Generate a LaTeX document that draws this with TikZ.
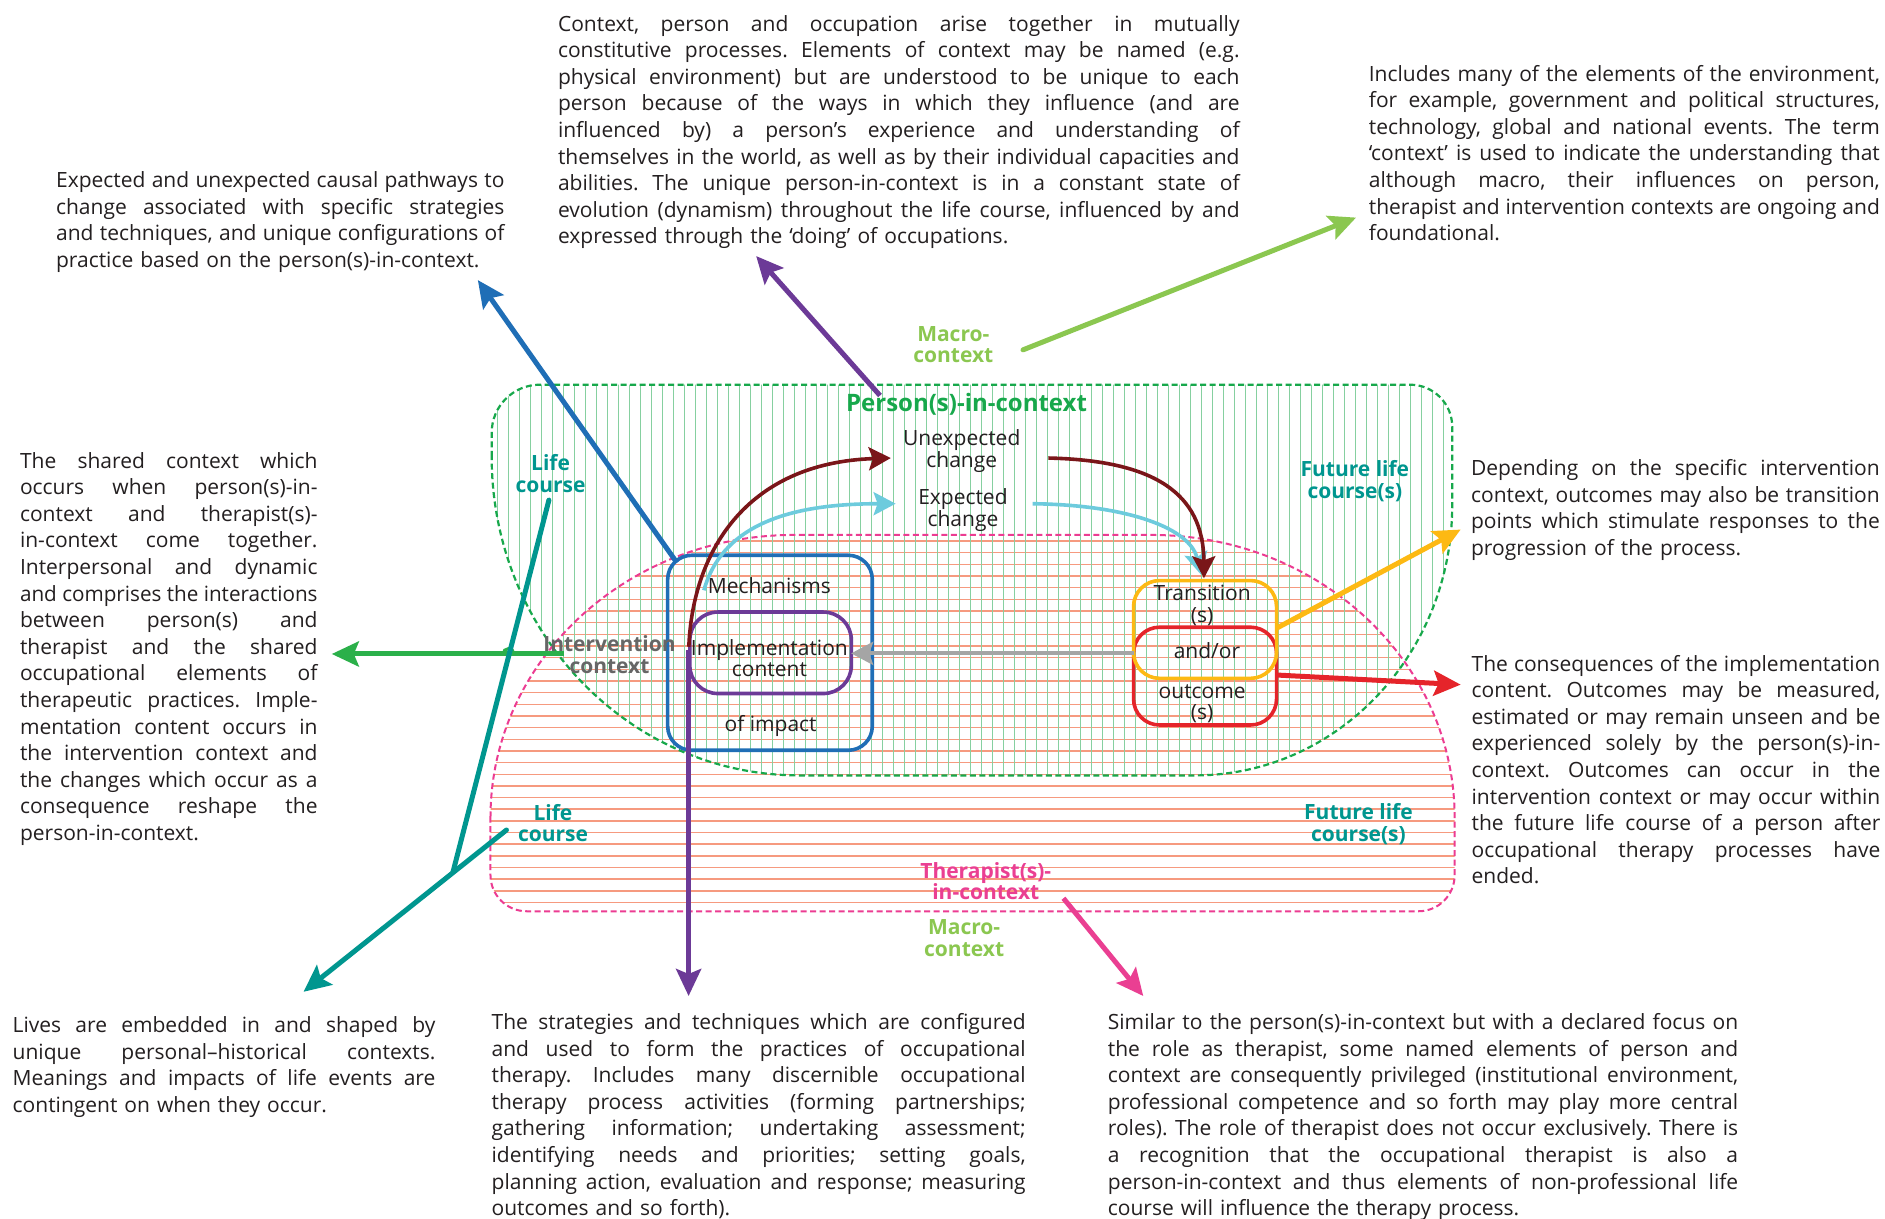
\documentclass[tikz,border=0pt]{standalone}
\usepackage{fontspec}
\setmainfont{Open Sans}
\usepackage{graphicx}
\usetikzlibrary{arrows.meta}
\definecolor{cgreen}{HTML}{17A84B}
\definecolor{chatchg}{HTML}{86D0A0}
\definecolor{cpinkd}{HTML}{EC3C92}
\definecolor{chatchp}{HTML}{F69A7F}
\definecolor{cteal}{HTML}{00968F}
\definecolor{cmaroon}{HTML}{7A1619}
\definecolor{clblue}{HTML}{6DCBDD}
\definecolor{cblue}{HTML}{1F6EB6}
\definecolor{cpurple}{HTML}{6C3A97}
\definecolor{cmacro}{HTML}{8BC750}
\definecolor{corange}{HTML}{FDB913}
\definecolor{cred}{HTML}{E5242A}
\definecolor{cgrayarr}{HTML}{A5A5A5}
\definecolor{cgraytxt}{HTML}{666666}
\definecolor{cgarr}{HTML}{2BB04A}
\definecolor{cpinka}{HTML}{EA3F92}
\definecolor{ctext}{HTML}{231F20}
\newlength\JLw
\newcommand\J[1]{{\spaceskip=0pt\xspaceskip=0pt\frenchspacing\settowidth\JLw{#1}\ifdim\JLw>\linewidth\resizebox{\linewidth}{\height}{#1}\else\makebox[\linewidth][s]{#1}\fi\par}}
\def\GreenShape{(409,380) -- (409,360) arc[start angle=180,end angle=270,radius=40] -- (1173,320) arc[start angle=270,end angle=360,radius=35] -- (1208,420) arc[start angle=0,end angle=90,x radius=214,y radius=225] -- (665,645) arc[start angle=90,end angle=180,x radius=256,y radius=265] -- cycle}
\def\PinkShape{(408,680) arc[start angle=180,end angle=270,x radius=252,y radius=235] -- (958,445) arc[start angle=270,end angle=360,x radius=252,y radius=235] -- (1210,728) arc[start angle=0,end angle=90,radius=30] -- (438,758) arc[start angle=90,end angle=180,radius=30] -- cycle}
\tikzset{
  txt/.style={inner sep=0pt, anchor=base west, align=left, text=ctext, font=\fontsize{21}{26.6}\selectfont\frenchspacing},
  lab/.style={inner sep=0pt, align=center, text=ctext, font=\fontsize{21}{21.6}\selectfont},
  blab/.style={inner sep=0pt, align=center, font=\bfseries\fontsize{21}{21.6}\selectfont},
  box/.style={shape=rectangle, inner sep=0pt, line width=3.6pt},
  arr/.style={line width=5pt, -{Stealth[length=27pt,width=25pt,inset=5pt]}},
  arrs/.style={line width=3.6pt, -{Stealth[length=22pt,width=23pt,inset=4pt]}},
  vh/.style={draw=chatchg, line width=1.3pt},
  hh/.style={draw=chatchp, line width=1.4pt},
  gdash/.style={draw=cgreen, line width=2.2pt, dash pattern=on 6pt off 3.5pt},
  pdash/.style={draw=cpinkd, line width=2pt, dash pattern=on 6pt off 3.5pt}
}
\begin{document}
\begin{tikzpicture}[x=1.2022pt,y=-1.2022pt]
\useasboundingbox (0,0) rectangle (1568,1014);
\fill[white] (0,0) rectangle (1568,1014);
% hatching
\begin{scope}
\clip \PinkShape;
\foreach \y in {450,459.7,...,760} \draw[hh] (400,\y) -- (1220,\y);
\end{scope}
\begin{scope}
\clip \GreenShape;
\foreach \x in {414,423.15,...,1212} \draw[vh] (\x,315) -- (\x,650);
\end{scope}
\draw[gdash] \GreenShape;
\draw[pdash] \PinkShape;
% boxes
\node[box, draw=cblue, minimum width=204.6pt, minimum height=195pt, rounded corners=24pt] (mech) at (640.5,543) {};
\node[box, draw=cpurple, minimum width=161.5pt, minimum height=81.5pt, rounded corners=28pt] (impl) at (641,543) {};
\node[box, draw=cred, minimum width=143pt, minimum height=97.8pt, rounded corners=26pt] (outc) at (1002.4,562.4) {};
\node[box, draw=corange, minimum width=143pt, minimum height=97.8pt, rounded corners=26pt] (trans) at (1002.4,523.6) {};
% labels
\node[lab] (lmech) at (640,487.5) {Mechanisms};
\node[lab] (limpl) at (640,547.5) {Implementation\\content};
\node[lab] (limp) at (641,603.5) {of impact};
\node[lab] (ltr) at (1000,503.5) {Transition\\(s)};
\node[lab] (land) at (1004,541) {and/or};
\node[lab] (lout) at (1000,585.5) {outcome\\(s)};
\node[lab] (lunexp) at (800,375) {Unexpected\\change};
\node[lab] (lexp) at (801,424.5) {Expected\\change};
\node[blab, text=cgreen, font=\bfseries\fontsize{24}{24}\selectfont] (lpic) at (804,336.5) {Person(s)-in-context};
\node[blab, text=cmacro] (lmac1) at (793,286.5) {Macro-\\context};
\node[blab, text=cmacro] (lmac2) at (802,780.5) {Macro-\\context};
\node[blab, text=cteal] (llc1) at (458,394) {Life\\course};
\node[blab, text=cteal] (llc2) at (460,684.5) {Life\\course};
\node[blab, text=cteal] (lfl1) at (1127,400) {Future life\\course(s)};
\node[blab, text=cteal] (lfl2) at (1130,685.5) {Future life\\course(s)};
\node[blab, text=cgraytxt] (lint) at (507,544.5) {Intervention\\context};
\node[blab, text=cpinka] (lther) at (820,733) {Therapist(s)-\\in-context};
% text blocks
\node[txt, text width=448.4pt] (t1) at (46.5,156) {\J{Expected and unexpected causal pathways to}\J{change associated with specific strategies}\J{and techniques, and unique configurations of}practice based on the person(s)-in-context.};
\node[txt, text width=681.6pt] (t2) at (464,25.9) {\J{Context, person and occupation arise together in mutually}\J{constitutive processes. Elements of context may be named (e.g.}\J{physical environment) but are understood to be unique to each}\J{person because of the ways in which they influence (and are}\J{influenced by) a person’s experience and understanding of}\J{themselves in the world, as well as by their individual capacities and}\J{abilities. The unique person-in-context is in a constant state of}\J{evolution (dynamism) throughout the life course, influenced by and}expressed through the ‘doing’ of occupations.};
\node[txt, text width=511pt] (t3) at (1138.5,67.5) {\J{Includes many of the elements of the environment,}\J{for example, government and political structures,}\J{technology, global and national events. The term}\J{‘context’ is used to indicate the understanding that}\J{although macro, their influences on person,}\J{therapist and intervention contexts are ongoing and}foundational.};
\node[txt, text width=297.5pt] (t4) at (16.5,389.3) {\J{The shared context which}\J{occurs when person(s)-in-}\J{context and therapist(s)-}\J{in-context come together.}\J{Interpersonal and dynamic}\J{and comprises the interactions}\J{between person(s) and}\J{therapist and the shared}\J{occupational elements of}\J{therapeutic practices. Imple-}\J{mentation content occurs in}\J{the intervention context and}\J{the changes which occur as a}\J{consequence reshape the}person-in-context.};
\node[txt, text width=408.7pt] (t5) at (1223.5,395.5) {\J{Depending on the specific intervention}\J{context, outcomes may also be transition}\J{points which stimulate responses to the}progression of the process.};
\node[txt, text width=408.7pt] (t6) at (1224,558.3) {\J{The consequences of the implementation}\J{content. Outcomes may be measured,}\J{estimated or may remain unseen and be}\J{experienced solely by the person(s)-in-}\J{context. Outcomes can occur in the}\J{intervention context or may occur within}\J{the future life course of a person after}\J{occupational therapy processes have}ended.};
\node[txt, text width=422.7pt] (t7) at (10.4,859.1) {\J{Lives are embedded in and shaped by}\J{unique personal–historical contexts.}\J{Meanings and impacts of life events are}contingent on when they occur.};
\node[txt, text width=534pt] (t8) at (408.8,856.3) {\J{The strategies and techniques which are configured}\J{and used to form the practices of occupational}\J{therapy. Includes many discernible occupational}\J{therapy process activities (forming partnerships;}\J{gathering information; undertaking assessment;}\J{identifying needs and priorities; setting goals,}\J{planning action, evaluation and response; measuring}outcomes and so forth).};
\node[txt, text width=630.3pt] (t9) at (921.4,856.3) {\J{Similar to the person(s)-in-context but with a declared focus on}\J{the role as therapist, some named elements of person and}\J{context are consequently privileged (institutional environment,}\J{professional competence and so forth may play more central}\J{roles). The role of therapist does not occur exclusively. There is}\J{a recognition that the occupational therapist is also a}\J{person-in-context and thus elements of non-professional life}course will influence the therapy process.};
% connector end points
\coordinate (bS) at (563,468);  \coordinate (bT) at (397.5,233);
\coordinate (pS) at (732,329);  \coordinate (pT) at (629,213);
\coordinate (mS) at (851,291);  \coordinate (mT) at (1128,181);
\coordinate (oS) at (1062,522.5); \coordinate (oT) at (1215,440.5);
\coordinate (rS) at (1062,561.5); \coordinate (rT) at (1215,569.5);
\coordinate (kS) at (884.6,747.2); \coordinate (kT) at (951,828.5);
\coordinate (vS) at (572.8,541); \coordinate (vT) at (572.8,828.5);
\coordinate (gS) at (469,544);  \coordinate (gT) at (276,544);
\coordinate (tS) at (421.3,690.4); \coordinate (tT) at (252.5,825);
\coordinate (tU) at (456.6,416); \coordinate (tM) at (376.9,725);
\coordinate (yS) at (943,543.5); \coordinate (yT) at (708,543.5);
% arrows
\draw[arr, color=cblue] (bS) -- (bT);
\draw[arr, color=cpurple] (pS) -- (pT);
\draw[arr, color=cmacro, line cap=round] (mS) -- (mT);
\draw[arr, color=corange] (oS) -- (oT);
\draw[arr, color=cred] (rS) -- (rT);
\draw[arr, color=cpinka] (kS) -- (kT);
\draw[arr, color=cpurple] (vS) -- (vT);
\draw[arr, color=cgarr] (gS) -- (gT);
\draw[color=cgarr, line width=3pt] (418.5,544) arc[start angle=180,end angle=360,radius=4.5];
\draw[arr, color=cteal, line cap=round] (tS) -- (tT);
\draw[color=cteal, line width=5pt, line cap=round] (tU) -- (tM);
\draw[arrs, color=cgrayarr, line width=4.2pt] (yS) -- (yT);
\draw[arrs, color=clblue] (585.5,491) .. controls (600,440) and (650,419) .. (745,419);
\draw[arrs, color=clblue] (859,419) .. controls (940,420) and (990,440) .. (999,478);
\draw[arrs, color=cmaroon] (573,538) .. controls (576,460) and (620,385) .. (741,381);
\draw[arrs, color=cmaroon] (872,381) .. controls (960,383) and (1001,410) .. (1001.5,481);
\end{tikzpicture}
\end{document}
